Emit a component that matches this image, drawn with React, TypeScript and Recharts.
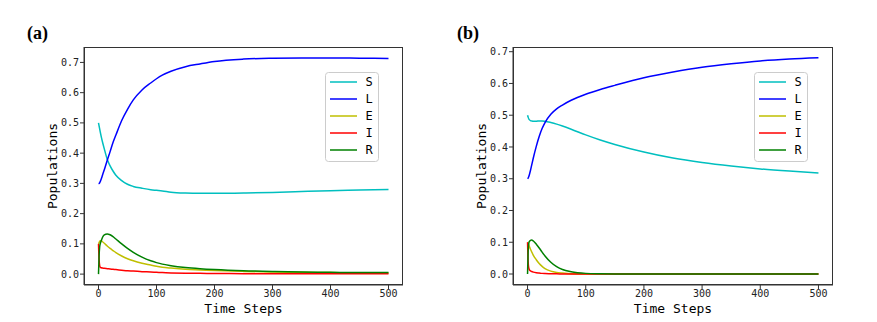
import React from "react";
import { LineChart, Line, XAxis, YAxis } from "recharts";

// time grids
const timeA = [0, 1, 2, 3, 5, 7, 10, 15, 20, 25, 30, 40, 50, 60, 75, 90, 100, 110, 125, 150, 175, 200, 250, 300, 350, 400, 450, 500];
const timeB = [0, 1, 2, 3, 5, 7, 10, 15, 20, 25, 30, 40, 50, 60, 75, 100, 125, 150, 200, 250, 300, 350, 400, 450, 500];

// panel (a)
const sA = [0.5, 0.49, 0.48, 0.47, 0.452, 0.436, 0.414, 0.38, 0.358, 0.341, 0.327, 0.309, 0.297, 0.29, 0.284, 0.279, 0.277, 0.275, 0.271, 0.268, 0.267, 0.267, 0.268, 0.27, 0.273, 0.276, 0.278, 0.28];
const lA = [0.3, 0.3, 0.302, 0.306, 0.316, 0.328, 0.345, 0.376, 0.405, 0.435, 0.46, 0.508, 0.545, 0.576, 0.609, 0.632, 0.646, 0.658, 0.671, 0.686, 0.695, 0.703, 0.711, 0.714, 0.715, 0.715, 0.714, 0.713];
const eA = [0.1, 0.104, 0.108, 0.11, 0.11, 0.107, 0.102, 0.093, 0.085, 0.078, 0.071, 0.06, 0.051, 0.044, 0.036, 0.03, 0.026, 0.023, 0.02, 0.016, 0.014, 0.012, 0.009, 0.007, 0.006, 0.005, 0.004, 0.004];
const iA = [0.1, 0.05, 0.028, 0.023, 0.021, 0.02, 0.019, 0.018, 0.017, 0.016, 0.015, 0.013, 0.011, 0.01, 0.008, 0.007, 0.006, 0.005, 0.004, 0.003, 0.0025, 0.002, 0.0015, 0.001, 0.001, 0.001, 0.001, 0.001];
const rA = [0, 0.06, 0.09, 0.1, 0.112, 0.122, 0.13, 0.133, 0.13, 0.124, 0.116, 0.1, 0.085, 0.072, 0.056, 0.044, 0.038, 0.033, 0.028, 0.022, 0.018, 0.015, 0.011, 0.009, 0.007, 0.006, 0.005, 0.005];

// panel (b)
const sB = [0.5, 0.494, 0.489, 0.486, 0.483, 0.482, 0.481, 0.481, 0.482, 0.482, 0.481, 0.477, 0.472, 0.466, 0.456, 0.438, 0.422, 0.408, 0.384, 0.365, 0.351, 0.34, 0.331, 0.324, 0.318];
const lB = [0.3, 0.302, 0.306, 0.312, 0.326, 0.342, 0.366, 0.402, 0.433, 0.458, 0.477, 0.503, 0.52, 0.532, 0.547, 0.566, 0.581, 0.594, 0.618, 0.636, 0.651, 0.662, 0.671, 0.677, 0.681];
const eB = [0.1, 0.097, 0.092, 0.087, 0.078, 0.07, 0.059, 0.045, 0.033, 0.024, 0.017, 0.009, 0.005, 0.003, 0.001, 0.0003, 0, 0, 0, 0, 0, 0, 0, 0, 0];
const iB = [0.1, 0.04, 0.02, 0.014, 0.01, 0.008, 0.006, 0.004, 0.003, 0.002, 0.0015, 0.001, 0.0005, 0.0003, 0.0001, 0, 0, 0, 0, 0, 0, 0, 0, 0, 0];
const rB = [0, 0.07, 0.095, 0.102, 0.106, 0.107, 0.104, 0.094, 0.082, 0.069, 0.057, 0.037, 0.023, 0.014, 0.007, 0.002, 0.0007, 0.0002, 0, 0, 0, 0, 0, 0, 0];

const xTicks = [0, 100, 200, 300, 400, 500];
const yTicks = [0, 0.1, 0.2, 0.3, 0.4, 0.5, 0.6, 0.7];

const seriesKeys = ["S", "L", "E", "I", "R"];
const colors: Record<string, string> = { S: "#00bfbf", L: "#0000ff", E: "#bfbf00", I: "#ff0000", R: "#008000" };

const mono = "'DejaVu Sans Mono', monospace";

const buildRows = (t: number[], s: number[], l: number[], e: number[], i: number[], r: number[]) =>
  t.map((v, k) => ({ t: v, S: s[k], L: l[k], E: e[k], I: i[k], R: r[k] }));

const dataA = buildRows(timeA, sA, lA, eA, iA, rA);
const dataB = buildRows(timeB, sB, lB, eB, iB, rB);

const YTitle = (props: any) => {
  const { viewBox } = props;
  const cx = viewBox.x + 8;
  const cy = viewBox.y + viewBox.height / 2;
  return (
    <text x={cx} y={cy} transform={`rotate(-90 ${cx} ${cy})`} textAnchor="middle" dominantBaseline="central"
      style={{ fontFamily: mono, fontSize: 13, fill: "#000" }}>
      Populations
    </text>
  );
};

const XTitle = (props: any) => {
  const { viewBox } = props;
  return (
    <text x={viewBox.x + viewBox.width / 2} y={viewBox.y + 23} textAnchor="middle" dominantBaseline="central"
      style={{ fontFamily: mono, fontSize: 13, fill: "#000" }}>
      Time Steps
    </text>
  );
};

// matplotlib-style legend box
const LegendBox = ({ left }: { left: number }) => (
  <svg width={54} height={90} style={{ position: "absolute", left, top: 72 }}>
    <rect x={0.5} y={0.5} width={53} height={89} rx={3} fill="rgba(255,255,255,0.8)" stroke="#cccccc" />
    {seriesKeys.map((k, idx) => (
      <g key={k}>
        <line x1={5} x2={32} y1={10 + idx * 17} y2={10 + idx * 17} stroke={colors[k]} strokeWidth={1.5} />
        <text x={44} y={10 + idx * 17} dominantBaseline="central" textAnchor="middle"
          style={{ fontFamily: mono, fontSize: 12, fill: "#000" }}>{k}</text>
      </g>
    ))}
  </svg>
);

const tickStyle = { fontFamily: mono, fontSize: 10, fill: "#222" };

interface PanelProps {
  data: any[];
  width: number;
  left: number;
  right: number;
  yDomain: [number, number];
  legendLeft: number;
}

const Panel: React.FC<PanelProps> = ({ data, width, left, right, yDomain, legendLeft }) => (
  <div style={{ position: "relative", width, height: 322 }}>
    <LineChart width={width} height={322} data={data} margin={{ top: 47, right, bottom: 7, left }}>
      <XAxis dataKey="t" type="number" domain={[-25, 525]} ticks={xTicks} allowDataOverflow
        height={30} tickSize={4} tickMargin={1} tick={tickStyle} stroke="#333" tickLine={{ stroke: "#333" }}
        label={<XTitle />} />
      <YAxis type="number" domain={yDomain} ticks={yTicks} allowDataOverflow width={40} tickSize={4} tickMargin={1}
        tick={tickStyle} stroke="#333" tickLine={{ stroke: "#333" }} tickFormatter={(v: number) => v.toFixed(1)}
        label={<YTitle />} />
      {seriesKeys.map((k) => (
        <Line key={k} type="monotoneX" dataKey={k} stroke={colors[k]} strokeWidth={1.5} dot={false} isAnimationActive={false} />
      ))}
    </LineChart>
    {/* axes frame (all four spines) */}
    <div style={{ position: "absolute", left: left + 40, top: 47, width: width - left - 40 - right, height: 238,
      boxSizing: "border-box", border: "1px solid #333", pointerEvents: "none" }} />
    <LegendBox left={legendLeft} />
  </div>
);

const titleStyle: React.CSSProperties = {
  position: "absolute",
  fontFamily: "'Liberation Serif', serif",
  fontWeight: "bold",
  fontSize: 18,
  lineHeight: "18px",
};

export default function App() {
  return (
    <div style={{ position: "absolute", left: 0, top: 0, width: 877, height: 322, background: "#fff", overflow: "hidden" }}>
      <div style={{ ...titleStyle, left: 27, top: 24 }}>(a)</div>
      <div style={{ ...titleStyle, left: 457, top: 24 }}>(b)</div>
      <div style={{ position: "absolute", left: 0, top: 0 }}>
        <Panel data={dataA} width={440} left={44} right={37} yDomain={[-0.036, 0.751]} legendLeft={325} />
      </div>
      <div style={{ position: "absolute", left: 440, top: 0 }}>
        <Panel data={dataB} width={437} left={33} right={44} yDomain={[-0.0346, 0.7148]} legendLeft={314} />
      </div>
    </div>
  );
}
